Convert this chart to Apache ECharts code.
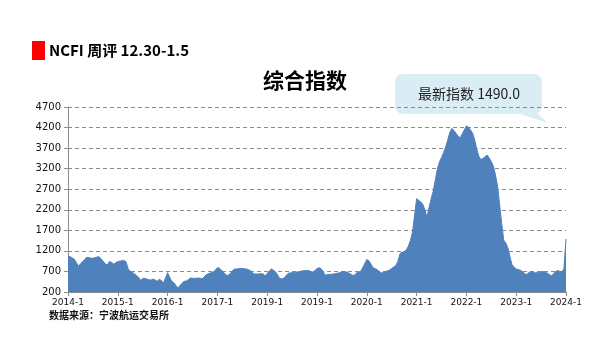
<!DOCTYPE html>
<html>
<head>
<meta charset="utf-8">
<script src="https://cdn.jsdelivr.net/npm/echarts@6/dist/echarts.min.js"></script>
<style>
  html, body { margin: 0; padding: 0; background: #ffffff; }
  #chart { width: 597px; height: 352px; }
</style>
</head>
<body>
<div id="chart"></div>
<script>
// NCFI composite index at two points per month
var values2014 = [1075, 1060, 1030, 1000, 920, 830, 880, 940, 985, 1045, 1035, 1025, 1020, 1035, 1050, 1060, 1000, 950, 880, 860, 940, 920, 880, 910]
var values2015 = [940, 950, 960, 965, 930, 760, 710, 680, 640, 600, 560, 480, 530, 530, 515, 495, 490, 515, 490, 460, 510, 480, 420, 540]
var values2016 = [670, 560, 460, 425, 360, 300, 360, 415, 460, 465, 500, 540, 535, 530, 535, 540, 530, 530, 590, 630, 650, 670, 690, 730]
var values2017 = [790, 780, 730, 680, 620, 600, 640, 700, 755, 760, 765, 770, 770, 765, 760, 740, 720, 660, 635, 640, 640, 645, 640, 595]
var values2018 = [650, 710, 760, 730, 690, 620, 530, 520, 535, 590, 650, 665, 670, 675, 685, 690, 700, 715, 720, 720, 720, 700, 685, 720]
var values2019 = [770, 790, 765, 690, 610, 625, 630, 630, 640, 650, 658, 670, 688, 695, 690, 670, 645, 610, 610, 660, 685, 700, 790, 890]
var values2020 = [990, 960, 880, 790, 770, 740, 700, 660, 680, 700, 715, 735, 775, 810, 845, 950, 1130, 1170, 1180, 1220, 1310, 1450, 1650, 2050]
var values2021 = [2470, 2430, 2390, 2330, 2200, 2020, 2250, 2470, 2650, 2920, 3190, 3360, 3470, 3590, 3730, 3900, 4080, 4180, 4130, 4060, 3990, 3950, 4050, 4140]
var values2022 = [4240, 4210, 4140, 4060, 3900, 3670, 3500, 3420, 3450, 3490, 3530, 3460, 3370, 3260, 3050, 2780, 2330, 1870, 1460, 1390, 1270, 1060, 860, 810]
var values2023 = [760, 745, 730, 700, 650, 625, 670, 700, 680, 665, 670, 675, 690, 700, 680, 660, 625, 595, 640, 700, 720, 700, 690, 760]
var values2024 = [1490]

// x axis labels exactly as printed (the 2018 one reads 2019-1 in the source)
var tickLabels = ['2014-1', '2015-1', '2016-1', '2017-1', '2019-1', '2019-1', '2020-1', '2021-1', '2022-1', '2023-1', '2024-1']

var seriesValues = [].concat(values2014, values2015, values2016, values2017, values2018,
  values2019, values2020, values2021, values2022, values2023, values2024)
var categories = seriesValues.map(function(v, i) { return 'p' + i })
var latest = seriesValues[seriesValues.length - 1]

var chart = echarts.init(document.getElementById('chart'))
chart.setOption({
  backgroundColor: '#ffffff',
  animation: false,
  grid: {
    left: 68,
    right: 31,
    top: 107,
    bottom: 60
  },
  xAxis: {
    type: 'category',
    data: categories,
    boundaryGap: false,
    axisLine: { lineStyle: { color: '#8c8c8c' } },
    axisTick: {
      length: 4,
      interval: function(index) { return index % 24 === 0 },
      lineStyle: { color: '#8c8c8c' }
    },
    axisLabel: {
      interval: function(index) { return index % 24 === 0 },
      formatter: function(value, index) { return tickLabels[index / 24] },
      fontFamily: 'DejaVu Sans',
      fontSize: 9,
      color: '#111111',
      margin: 6
    },
    splitLine: { show: false }
  },
  yAxis: {
    type: 'value',
    min: 200,
    max: 4700,
    interval: 500,
    axisLine: { show: true, lineStyle: { color: '#8c8c8c' } },
    axisTick: { show: true, length: 4, lineStyle: { color: '#8c8c8c' } },
    axisLabel: {
      formatter: function(value) { return String(value) },
      fontFamily: 'DejaVu Sans',
      fontSize: 10,
      color: '#111111',
      margin: 7
    },
    splitLine: {
      lineStyle: { color: '#8a8a8a', type: [4, 3], width: 1 }
    }
  },
  series: [{
    type: 'line',
    data: seriesValues,
    showSymbol: false,
    symbol: 'none',
    lineStyle: { color: '#4f81bd', width: 1 },
    areaStyle: { color: '#4f81bd', opacity: 1 }
  }],
  graphic: [
    {
      type: 'rect',
      shape: { x: 32, y: 41, width: 13, height: 19 },
      style: { fill: '#ff0000' }
    },
    {
      type: 'text',
      x: 49,
      y: 50,
      style: {
        text: 'NCFI 周评 12.30-1.5',
        font: 'bold 15px "Noto Sans CJK SC"',
        fill: '#000000',
        verticalAlign: 'middle'
      }
    },
    {
      type: 'text',
      x: 305,
      y: 80,
      style: {
        text: '综合指数',
        font: 'bold 21px "Noto Sans CJK SC"',
        fill: '#000000',
        align: 'center',
        verticalAlign: 'middle'
      }
    },
    {
      type: 'polygon',
      shape: { points: [[514, 112], [548, 123], [536, 112]] },
      style: { fill: '#daedf4' }
    },
    {
      type: 'rect',
      shape: { x: 395, y: 74, width: 147, height: 40, r: 8 },
      style: { fill: '#daedf4' }
    },
    {
      type: 'text',
      x: 469,
      y: 94,
      style: {
        text: '最新指数 ' + latest.toFixed(1),
        font: '14px "Noto Sans CJK SC"',
        fill: '#222222',
        align: 'center',
        verticalAlign: 'middle'
      }
    },
    {
      type: 'text',
      x: 49,
      y: 315,
      style: {
        text: '数据来源：宁波航运交易所',
        font: 'bold 10px "Noto Sans CJK SC"',
        fill: '#111111',
        verticalAlign: 'middle'
      }
    }
  ]
})
</script>
</body>
</html>
